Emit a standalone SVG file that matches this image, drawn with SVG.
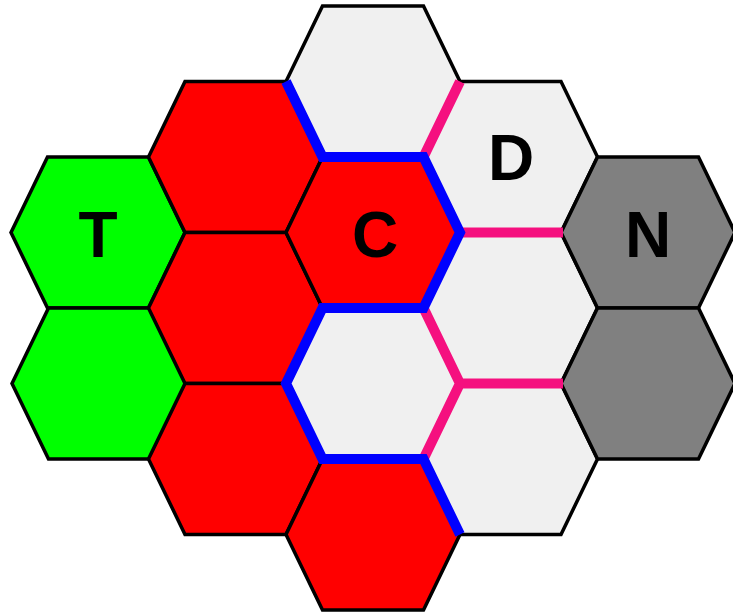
<svg xmlns="http://www.w3.org/2000/svg" xmlns:xlink="http://www.w3.org/1999/xlink" width="733" height="615" viewBox="0 0 733 615">
<style>
.h{stroke:#000;stroke-width:3.5;stroke-linejoin:miter}
.g{fill:#00FF00}
.r{fill:#FF0000}
.l{fill:#F0F0F0}
.d{fill:#808080}
.t{font-family:"Liberation Sans",Arial,sans-serif;font-weight:bold;font-size:64px;fill:#000;text-anchor:middle}
.b{fill:none;stroke:#0000FF;stroke-width:10;stroke-linejoin:miter}
.p{fill:none;stroke:#F5107F;stroke-width:10;stroke-linejoin:miter}
</style>
<defs>
<polygon id="hex" points="-87,0 -50.5,-75.5 50.5,-75.5 87,0 50.5,75.5 -50.5,75.5"/>
</defs>
<rect width="733" height="615" fill="#fff"/>
<g id="hex-t"><use xlink:href="#hex" x="98" y="232.5" class="h g"/><text x="98" y="257" class="t">T</text></g>
<g id="hex-g2"><use xlink:href="#hex" x="99" y="383.5" class="h g"/></g>
<g id="hex-r1"><use xlink:href="#hex" x="235.5" y="157" class="h r"/></g>
<g id="hex-r2"><use xlink:href="#hex" x="235.5" y="308" class="h r"/></g>
<g id="hex-r3"><use xlink:href="#hex" x="235.5" y="459" class="h r"/></g>
<g id="hex-top"><use xlink:href="#hex" x="373" y="81.5" class="h l"/></g>
<g id="hex-c"><use xlink:href="#hex" x="373" y="232.5" class="h r"/><text x="375" y="257" class="t">C</text></g>
<g id="hex-w2"><use xlink:href="#hex" x="373" y="383.5" class="h l"/></g>
<g id="hex-rb"><use xlink:href="#hex" x="373" y="534.5" class="h r"/></g>
<g id="hex-d"><use xlink:href="#hex" x="510.5" y="157" class="h l"/><text x="511" y="180" class="t">D</text></g>
<g id="hex-w3"><use xlink:href="#hex" x="510.5" y="308" class="h l"/></g>
<g id="hex-w4"><use xlink:href="#hex" x="510.5" y="459" class="h l"/></g>
<g id="hex-n"><use xlink:href="#hex" x="648" y="232.5" class="h d"/><text x="648" y="257" class="t">N</text></g>
<g id="hex-n2"><use xlink:href="#hex" x="648" y="383.5" class="h d"/></g>
<g id="connectors">
<path class="p" d="M423.5,308 L460,383.5 L423.5,459 M460,383.5 L563,383.5 M460,232.5 L563,232.5 M423.5,157 L460,81.5"/>
<path class="b" d="M286,81.5 L322.5,157 L423.5,157 L460,232.5 L423.5,308 L322.5,308 L286,383.5 L322.5,459 L423.5,459 L460,534.5"/>
</g>
</svg>
